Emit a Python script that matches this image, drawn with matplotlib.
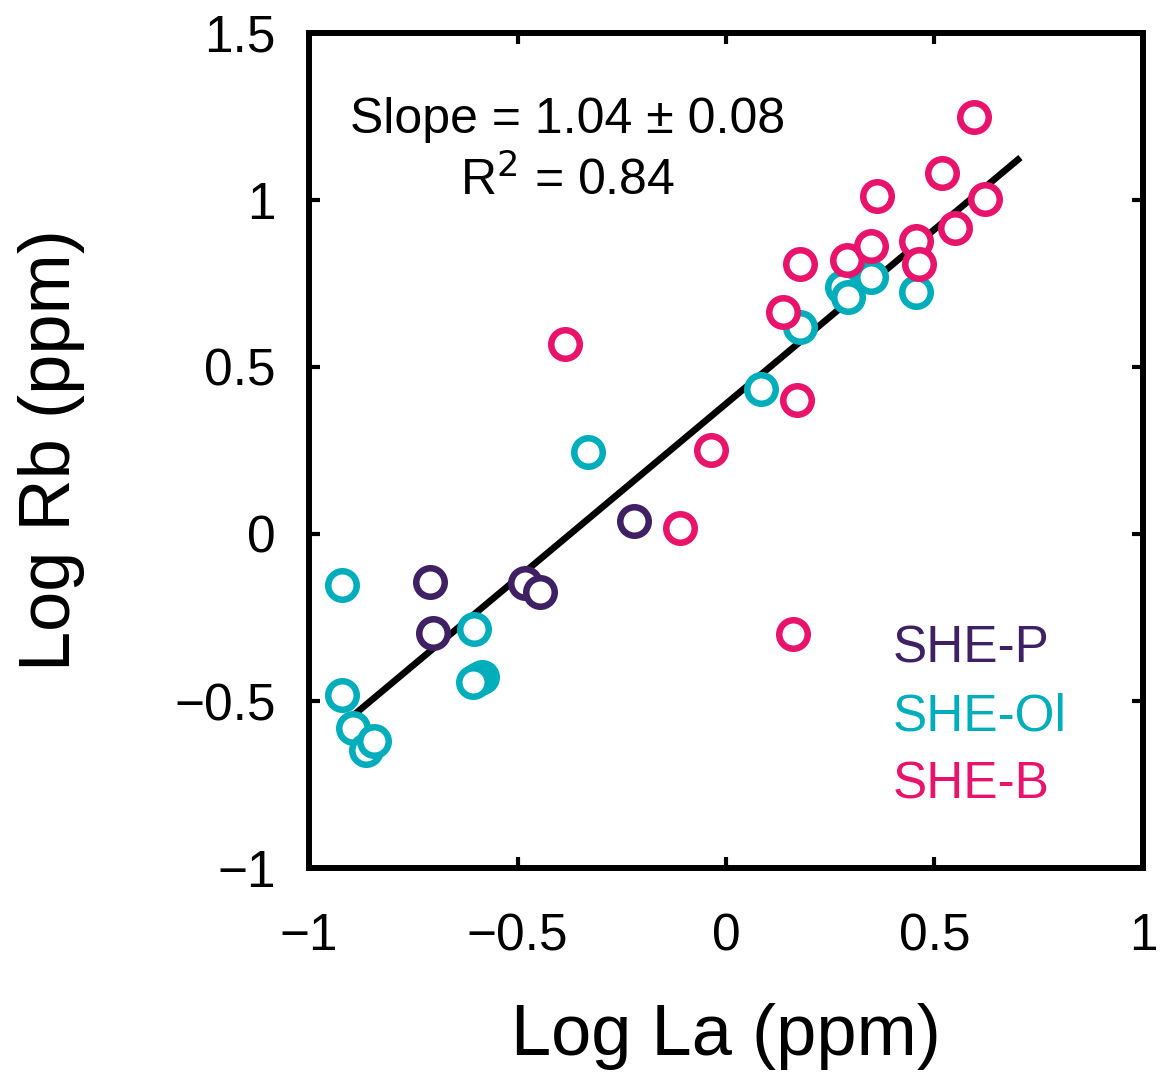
import numpy as np
import matplotlib.pyplot as plt

plt.rcParams['font.family'] = ['Liberation Sans', 'DejaVu Sans']

# Log La / Log Rb
p_la = [-0.710, -0.703, -0.482, -0.446, -0.221]
p_rb = [-0.144, -0.296, -0.147, -0.174, 0.039]

ol_la = [-0.921, -0.921, -0.894, -0.863, -0.844, -0.604, -0.585, -0.594, -0.607,
         -0.331, 0.084, 0.177, 0.278, 0.293, 0.348, 0.456]
ol_rb = [-0.153, -0.482, -0.581, -0.647, -0.620, -0.284, -0.428, -0.435, -0.443,
         0.246, 0.434, 0.620, 0.740, 0.710, 0.769, 0.725]

b_la = [-0.386, -0.110, -0.036, 0.137, 0.170, 0.177, 0.161, 0.290, 0.348, 0.362,
        0.456, 0.463, 0.518, 0.549, 0.595, 0.621]
b_rb = [0.569, 0.018, 0.251, 0.665, 0.401, 0.808, -0.299, 0.820, 0.862, 1.012,
        0.877, 0.808, 1.081, 0.916, 1.249, 1.003]

groups = ['SHE-P', 'SHE-Ol', 'SHE-B']
colors = ['#3f2163', '#00adbb', '#e8146c']

fit_x = [-0.89, 0.70]
slope_txt = 'Slope = 1.04 \u00b1 0.08'
r2_txt = 'R$^2$ = 0.84'

all_la = np.array(p_la + ol_la + b_la)
all_rb = np.array(p_rb + ol_rb + b_rb)
k, c = np.polyfit(all_la, all_rb, 1)

fig = plt.figure(figsize=(11.62, 10.78), dpi=100)
ax = fig.add_axes([0.266, 0.1948, 0.9836 - 0.266, 0.9694 - 0.1948])

ax.plot(fit_x, k * np.array(fit_x) + c, color='black', lw=4.8, zorder=1)

for la, rb, col in zip([p_la, ol_la, b_la], [p_rb, ol_rb, b_rb], colors):
    ax.plot(la, rb, 'o', ms=20.5, mfc='white', mec=col, mew=4.7, zorder=2)

ax.set_xlim(-1, 1)
ax.set_ylim(-1, 1.5)
ax.set_xticks([-1, -0.5, 0, 0.5, 1])
ax.set_xticklabels(['\u22121', '\u22120.5', '0', '0.5', '1'])
ax.set_yticks([-1, -0.5, 0, 0.5, 1, 1.5])
ax.set_yticklabels(['\u22121', '\u22120.5', '0', '0.5', '1', '1.5'])
ax.tick_params(direction='in', length=8, width=3, labelsize=37,
               top=True, right=True)
ax.tick_params(axis='x', pad=32)
ax.tick_params(axis='y', pad=24)
for s in ax.spines.values():
    s.set_linewidth(4.3)

ax.set_xlabel('Log La (ppm)', fontsize=52, labelpad=30)
ax.set_ylabel('Log Rb (ppm)', fontsize=52, labelpad=64)

ax.text(-0.38, 1.20, slope_txt, fontsize=36, ha='center', va='baseline')
ax.text(-0.38, 1.015, r2_txt, fontsize=36, ha='center', va='baseline')

for i, (g, col) in enumerate(zip(groups, colors)):
    ax.text(0.40, -0.386 - i * 0.203, g, fontsize=37, color=col, va='baseline')

fig.savefig('out.png', dpi=100)
print(k, c)
